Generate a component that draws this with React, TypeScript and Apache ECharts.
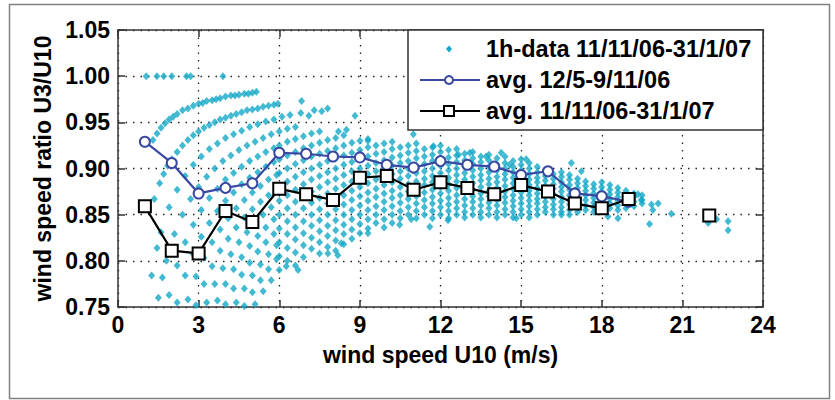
import React, { useEffect, useRef } from "react";
import * as echarts from "echarts";

// ---------- data ----------
const xAxisName = "wind speed U10 (m/s)";
const yAxisName = "wind speed ratio U3/U10";
const legendLabels = ["1h-data 11/11/06-31/1/07", "avg. 12/5-9/11/06", "avg. 11/11/06-31/1/07"];

const avgX = [1, 2, 3, 4, 5, 6, 7, 8, 9, 10, 11, 12, 13, 14, 15, 16, 17, 18, 19];
const avgMayNov = [0.929, 0.906, 0.873, 0.879, 0.884, 0.917, 0.916, 0.913, 0.912, 0.904, 0.901, 0.908, 0.904, 0.902, 0.893, 0.897, 0.873, 0.870, 0.864];

const avgNovJanX = [1, 2, 3, 4, 5, 6, 7, 8, 9, 10, 11, 12, 13, 14, 15, 16, 17, 18, 19, 20, 21, 22];
const avgNovJan = [0.859, 0.811, 0.808, 0.854, 0.842, 0.878, 0.872, 0.866, 0.890, 0.892, 0.877, 0.885, 0.879, 0.872, 0.882, 0.875, 0.862, 0.857, 0.867, null, null, 0.849];

// hourly points at low wind speed (U10 < 6 m/s)
const hourlyLow: [number, number][] = [
  [1.05, 1], [1.45, 1], [1.7, 1], [2.0, 1], [2.55, 1], [2.7, 1], [3.9, 1],
  [1.3, .931], [1.45, .938], [1.6, .944], [1.75, .949], [1.9, .953], [2.05, .956], [2.2, .959], [2.4, .963], [2.6, .965], [2.8, .968], [3.0, .97], [3.15, .971], [3.3, .973], [3.5, .974], [3.65, .975], [3.8, .976], [4.0, .978], [4.2, .979], [4.35, .979], [4.5, .98], [4.7, .981], [4.85, .981], [5.0, .982], [5.15, .983],
  [1.35, .867], [1.55, .884], [1.7, .894], [1.85, .903], [2.0, .91], [2.2, .918], [2.4, .925], [2.6, .931], [2.8, .936], [3.0, .94], [3.2, .944], [3.4, .947], [3.6, .95], [3.8, .953], [4.0, .955], [4.2, .957], [4.4, .959], [4.6, .961], [4.8, .963], [5.0, .964], [5.2, .965], [5.4, .967], [5.6, .968], [5.8, .969], [5.95, .97],
  [1.25, .784], [1.45, .814], [1.6, .831], [1.9, .858], [2.2, .877], [2.5, .892], [2.8, .904], [3.1, .913], [3.4, .921], [3.7, .927], [4.0, .933], [4.3, .937], [4.6, .941], [4.9, .945], [5.2, .948], [5.5, .951], [5.8, .953], [6.1, .956], [6.4, .958], [6.8, .96], [7.3, .963], [7.8, .965],
  [1.5, .76], [1.65, .782], [1.8, .8], [2.1, .829], [2.4, .85], [2.7, .867], [3.0, .88], [3.3, .891], [3.6, .9], [3.9, .908], [4.2, .914], [4.5, .92], [4.8, .925], [5.1, .929], [5.4, .933], [5.7, .937],
  [1.9, .763], [2.2, .795], [2.5, .82], [2.8, .839], [3.1, .855], [3.4, .868], [3.7, .878], [4.0, .888], [4.3, .895], [4.6, .902], [4.9, .908], [5.2, .913], [5.5, .918], [5.8, .922],
  [2.2, .755], [2.5, .784], [2.8, .807], [3.1, .826], [3.4, .841], [3.7, .854], [4.0, .865], [4.3, .874], [4.6, .883], [4.9, .89], [5.2, .896], [5.5, .902], [5.8, .907],
  [2.6, .758], [2.9, .783], [3.2, .803], [3.5, .82], [3.8, .834], [4.1, .846], [4.4, .857], [4.7, .866], [5.0, .874], [5.3, .881], [5.6, .888], [5.9, .893],
  [2.9, .752], [3.2, .775], [3.5, .794], [3.8, .811], [4.1, .824], [4.4, .836], [4.7, .847], [5.0, .856], [5.3, .864], [5.6, .871], [5.9, .878],
  [3.3, .755], [3.6, .775], [3.9, .792], [4.2, .807], [4.5, .82], [4.8, .831], [5.1, .841], [5.4, .85], [5.7, .858],
  [3.7, .757], [4.0, .775], [4.3, .791], [4.6, .804], [4.9, .816], [5.2, .827], [5.5, .836], [5.8, .845],
  [4.0, .753], [4.3, .77], [4.6, .785], [4.9, .798], [5.2, .81], [5.5, .82], [5.8, .829],
  [4.4, .755], [4.7, .77], [5.0, .784], [5.3, .796], [5.6, .807], [5.9, .817],
  [4.7, .751], [5.0, .766], [5.3, .779], [5.6, .791], [5.9, .802],
  [5.1, .753], [5.4, .767], [5.7, .779],
];

// hourly points at U10 >= 6 m/s, grouped by U10 value: [U10, ratios]
const hourlyByU10: [number, number[]][] = [
  [6.0, [.94, .925, .91, .895, .88, .865, .85, .835, .82, .805, .79]],
  [6.3, [.943, .929, .914, .9, .886, .871, .857, .843, .829, .814, .8]],
  [6.6, [.945, .932, .918, .905, .891, .877, .864, .85, .836, .823, .809, .795]],
  [6.9, [.935, .922, .909, .896, .883, .87, .857, .843, .83, .817, .804]],
  [7.2, [.938, .925, .913, .9, .888, .875, .863, .85, .838, .825, .813]],
  [7.5, [.94, .928, .916, .904, .892, .88, .868, .856, .844, .832, .82, .808]],
  [7.8, [.931, .919, .908, .896, .885, .873, .862, .85, .838, .827, .815]],
  [8.1, [.933, .922, .911, .9, .889, .878, .867, .856, .844, .833, .822, .811]],
  [8.4, [.936, .925, .914, .904, .893, .882, .871, .861, .85, .839, .829, .818]],
  [8.7, [.928, .917, .907, .897, .886, .876, .866, .855, .845, .834, .824]],
  [9.0, [.93, .92, .91, .9, .89, .88, .87, .86, .85, .84, .83]],
  [9.3, [.932, .923, .913, .903, .894, .884, .874, .865, .855, .845, .835]],
  [9.6, [.925, .916, .906, .897, .888, .878, .869, .859, .85, .841]],
  [9.9, [.927, .918, .909, .9, .891, .882, .873, .864, .855, .845, .836]],
  [10.2, [.929, .921, .912, .903, .894, .885, .876, .868, .859, .85, .841]],
  [10.5, [.923, .914, .906, .897, .889, .88, .871, .863, .854, .846]],
  [10.8, [.925, .917, .908, .9, .892, .883, .875, .867, .858, .85]],
  [11.1, [.927, .919, .911, .903, .895, .886, .878, .87, .862, .854, .846]],
  [11.4, [.921, .913, .905, .897, .889, .882, .874, .866, .858, .85]],
  [11.7, [.923, .915, .908, .9, .892, .885, .877, .869, .862, .854, .846]],
  [12.0, [.925, .918, .91, .903, .895, .888, .88, .873, .865, .858, .85]],
  [12.3, [.92, .912, .905, .898, .89, .883, .876, .868, .861, .854, .846]],
  [12.6, [.921, .914, .907, .9, .893, .886, .879, .871, .864, .857, .85]],
  [12.9, [.916, .909, .902, .895, .888, .881, .874, .867, .86, .853, .847]],
  [13.2, [.918, .911, .905, .898, .891, .884, .877, .87, .864, .857, .85]],
  [13.5, [.913, .907, .9, .893, .887, .88, .873, .867, .86, .853, .847]],
  [13.8, [.915, .909, .902, .896, .889, .883, .876, .87, .863, .857, .85]],
  [14.1, [.911, .904, .898, .891, .885, .879, .872, .866, .86, .853, .847]],
  [14.4, [.913, .906, .9, .894, .888, .881, .875, .869, .863, .856, .85]],
  [14.7, [.908, .902, .896, .89, .884, .878, .871, .865, .859, .853, .847]],
  [15.0, [.91, .904, .898, .892, .886, .88, .874, .868, .862, .856, .85]],
  [15.3, [.906, .9, .894, .888, .882, .876, .871, .865, .859, .853, .847]],
  [15.6, [.902, .896, .89, .885, .879, .873, .867, .862, .856, .85]],
  [15.9, [.898, .892, .887, .881, .875, .87, .864, .858, .853]],
  [16.2, [.894, .889, .883, .878, .872, .867, .861, .856, .85]],
  [16.5, [.896, .891, .885, .88, .875, .869, .864, .858, .853]],
  [16.8, [.893, .888, .882, .877, .871, .866, .861, .855, .85]],
  [17.1, [.889, .884, .879, .874, .868, .863, .858, .853]],
  [17.4, [.886, .881, .876, .871, .866, .86, .855]],
  [17.7, [.883, .878, .873, .868, .863, .858, .853]],
  [18.0, [.885, .88, .875, .87, .865, .86, .855]],
  [18.3, [.882, .877, .872, .867, .862, .857]],
  [18.6, [.879, .874, .869, .865, .86, .855]],
  [18.9, [.876, .871, .867, .862, .857]],
  [19.2, [.873, .869, .864, .859]],
  [19.5, [.871, .866, .862]],
];

// isolated hourly points
const hourlyIsolated: [number, number][] = [
  [6.83, .973], [7.58, .962], [7.1, .957], [8.82, .957], [8.2, .94], [8.5, .942], [9.3, .93],
  [10.99, .937], [11.74, .924], [12.67, .915], [13.09, .917], [13.7, .913], [14.26, .917], [14.57, .904],
  [15.19, .91], [16.87, .906], [17.24, .897],
  [6.26, .794], [6.7, .79], [7.81, .808], [8.18, .806], [8.31, .819], [9.3, .83], [10.48, .839],
  [10.91, .845], [11.6, .837], [12.28, .844], [14.82, .846], [16.5, .85],
  [18.23, .848], [18.6, .846], [19.78, .84], [19.35, .872], [19.85, .861], [19.47, .866], [19.9, .855], [20.1, .862],
  [20.59, .851], [21.96, .841], [22.27, .845], [22.7, .843], [22.7, .833],
];

// ---------- styling ----------
const FONT = "'Liberation Sans', Arial, Helvetica, sans-serif";
const CYAN = "#14a9c7";
const BLUE = "#3a48a2";
const textStyle = { fontFamily: FONT, fontSize: 23, fontWeight: "bold" as const, color: "#000" };

export default function App() {
  const ref = useRef<HTMLDivElement>(null);

  useEffect(() => {
    if (!ref.current) return;
    const chart = echarts.init(ref.current, undefined, { renderer: "svg" });

    const scatterData = [
      ...hourlyLow,
      ...hourlyByU10.flatMap(([u, rs]) => rs.map((r) => [u, r] as [number, number])),
      ...hourlyIsolated,
    ];
    const blueData = avgX.map((x, i) => [x, avgMayNov[i]]);
    const blackData = avgNovJanX.map((x, i) => [x, avgNovJan[i] === null ? "-" : avgNovJan[i]]);

    const axisLineStyle = { color: "#333", width: 1.5 };
    const gridSplit = { show: true, lineStyle: { color: "#222", type: [1.5, 6] as any, width: 1.3 } };

    const lx = 408, ly = 30, lw = 355, lh = 100;
    const rows = [49, 80, 111];

    chart.setOption({
      animation: false,
      backgroundColor: "#fff",
      grid: { left: 118, top: 30, width: 645, height: 277, containLabel: false },
      xAxis: [
        {
          type: "value", min: 0, max: 24, interval: 3, position: "bottom",
          name: xAxisName, nameLocation: "middle", nameGap: 36, nameTextStyle: { ...textStyle },
          axisLine: { show: true, onZero: false, lineStyle: axisLineStyle },
          axisTick: { show: true, inside: true, length: 7, lineStyle: axisLineStyle },
          axisLabel: { ...textStyle, margin: 6 },
          splitLine: gridSplit,
        },
        {
          type: "value", min: 0, max: 24, interval: 3, position: "top",
          axisLine: { show: true, onZero: false, lineStyle: axisLineStyle },
          axisTick: { show: true, inside: true, length: 7, lineStyle: axisLineStyle },
          axisLabel: { show: false },
          splitLine: { show: false },
        },
      ],
      yAxis: [
        {
          type: "value", min: 0.75, max: 1.05, interval: 0.05, position: "left",
          name: yAxisName, nameLocation: "middle", nameGap: 62, nameRotate: 90, nameTextStyle: { ...textStyle },
          axisLine: { show: true, onZero: false, lineStyle: axisLineStyle },
          axisTick: { show: true, inside: true, length: 7, lineStyle: axisLineStyle },
          axisLabel: { ...textStyle, margin: 8, formatter: (v: number) => v.toFixed(2) },
          splitLine: gridSplit,
        },
        {
          type: "value", min: 0.75, max: 1.05, interval: 0.05, position: "right",
          axisLine: { show: true, onZero: false, lineStyle: axisLineStyle },
          axisTick: { show: true, inside: true, length: 7, lineStyle: axisLineStyle },
          axisLabel: { show: false },
          splitLine: { show: false },
        },
      ],
      series: [
        {
          name: legendLabels[0], type: "scatter", xAxisIndex: 0, yAxisIndex: 0,
          data: scatterData, symbol: "diamond", symbolSize: [7, 8],
          itemStyle: { color: CYAN }, silent: true, z: 1,
        },
        {
          name: legendLabels[1], type: "line", xAxisIndex: 0, yAxisIndex: 0,
          data: blueData, symbol: "emptyCircle", symbolSize: 10, showSymbol: true,
          lineStyle: { color: BLUE, width: 2.2 }, itemStyle: { color: BLUE, borderWidth: 2 },
          silent: true, z: 2,
        },
        {
          name: legendLabels[2], type: "line", xAxisIndex: 0, yAxisIndex: 0,
          data: blackData, symbol: "emptyRect", symbolSize: 12, showSymbol: true, connectNulls: false,
          lineStyle: { color: "#000", width: 2.2 }, itemStyle: { color: "#000", borderWidth: 2.2 },
          silent: true, z: 3,
        },
      ],
      graphic: [
        { type: "rect", shape: { x: 9.5, y: 4.5, width: 820, height: 394 }, style: { fill: "none", stroke: "#808080", lineWidth: 1.5 }, z: 0, silent: true },
        { type: "rect", shape: { x: lx, y: ly, width: lw, height: lh }, style: { fill: "#fff", stroke: "#333", lineWidth: 1.5 }, z: 100 },
        { type: "polygon", shape: { points: [[449, rows[0] - 3.5], [452, rows[0]], [449, rows[0] + 3.5], [446, rows[0]]] }, style: { fill: CYAN }, z: 101 },
        { type: "line", shape: { x1: 420, y1: rows[1], x2: 480, y2: rows[1] }, style: { stroke: BLUE, lineWidth: 2.2 }, z: 101 },
        { type: "circle", shape: { cx: 449, cy: rows[1], r: 4 }, style: { fill: "#fff", stroke: BLUE, lineWidth: 2 }, z: 102 },
        { type: "line", shape: { x1: 420, y1: rows[2], x2: 480, y2: rows[2] }, style: { stroke: "#000", lineWidth: 2.2 }, z: 101 },
        { type: "rect", shape: { x: 444, y: rows[2] - 5, width: 10, height: 10 }, style: { fill: "#fff", stroke: "#000", lineWidth: 2 }, z: 102 },
        ...legendLabels.map((t, i) => ({
          type: "text", x: 486, y: rows[i], z: 103,
          style: { text: t, fill: "#000", font: `bold 23.5px ${FONT}`, textVerticalAlign: "middle", verticalAlign: "middle" },
        })),
      ],
    });

    return () => chart.dispose();
  }, []);

  return <div ref={ref} style={{ position: "fixed", left: 0, top: 0, width: 835, height: 400 }} />;
}
